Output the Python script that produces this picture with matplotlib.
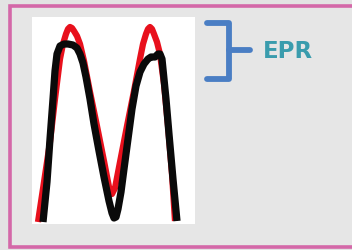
import matplotlib.pyplot as plt
from matplotlib.patches import Rectangle

# curve points (pixel coords, y down)
red_x = [38, 44, 50, 55, 60, 63, 66, 68, 70, 72, 74, 77, 80, 84, 90, 97, 104, 109, 112, 115, 120, 127, 134, 140, 143, 146, 148, 150, 152, 154, 157, 160, 164, 168, 172, 175]
red_y = [223, 183, 143, 100, 60, 45, 35, 30, 28, 29, 32, 37, 45, 62, 93, 127, 162, 188, 195, 189, 163, 127, 92, 60, 45, 35, 30, 28, 30, 35, 43, 55, 85, 127, 175, 222]

blk_x = [43, 47, 50, 53, 55, 57, 60, 64, 68, 73, 77, 80, 83, 86, 90, 94, 99, 104, 109, 112, 114, 116, 118, 121, 124, 128, 132, 136, 140, 144, 148, 151, 155, 158, 160, 162, 164, 166, 169, 173, 177]
blk_y = [223, 183, 140, 100, 72, 55, 47, 45, 45, 46, 49, 55, 64, 78, 100, 125, 152, 178, 202, 214, 219, 218, 210, 193, 170, 140, 110, 87, 73, 65, 60, 58, 58, 55, 55, 60, 80, 100, 135, 180, 222]

label = 'EPR'

fig = plt.figure(figsize=(3.52, 2.51), dpi=100, facecolor='#e3e3e3')
ax = fig.add_axes([0, 0, 1, 1])
ax.set_xlim(0, 352)
ax.set_ylim(251, 0)
ax.axis('off')

# panel with pink border
ax.add_patch(Rectangle((10, 6.5), 360, 241.5, facecolor='#e6e6e6', edgecolor='#d468a8', lw=2.6))
# white plot box
ax.add_patch(Rectangle((32, 18), 163, 207, facecolor='white', edgecolor='none'))

ax.plot(red_x, red_y, color='#e8101c', lw=4.5, solid_capstyle='butt', solid_joinstyle='round')
ax.plot(blk_x, blk_y, color='#0a0a0a', lw=5.2, solid_capstyle='butt', solid_joinstyle='round')

# blue bracket
bx = [207, 229, 229, 207]
by = [24, 24, 80, 80]
ax.plot(bx, by, color='#4a7ec4', lw=4.2, solid_joinstyle='round', solid_capstyle='round')
ax.plot([229, 250], [51, 51], color='#4a7ec4', lw=4.2, solid_capstyle='round')

ax.text(263, 52, label, color='#3a9cad', fontsize=16.5, fontweight='bold',
        ha='left', va='center', family='DejaVu Sans')

plt.savefig('out.png', dpi=100, facecolor=fig.get_facecolor())
